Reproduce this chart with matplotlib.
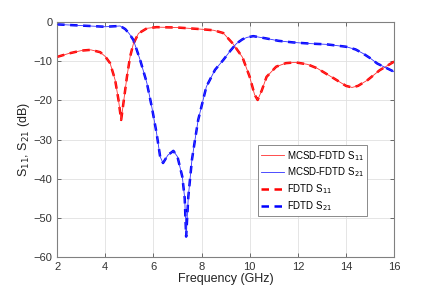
import matplotlib.pyplot as plt
import numpy as np

plt.rcParams['font.family'] = ['Liberation Sans', 'DejaVu Sans']

# S11 (dB)
f_s11 = [2.0, 2.5, 3.0, 3.4, 3.79, 4.0, 4.2, 4.41, 4.55, 4.66, 4.77, 4.9, 5.03,
         5.17, 5.38, 5.73, 6.13, 7.0, 7.94, 8.5, 8.9, 9.3, 9.7, 10.0, 10.2,
         10.33, 10.5, 10.7, 11.1, 11.5, 11.9, 12.4, 12.8, 13.5, 14.0, 14.25,
         14.5, 14.9, 15.4, 16.0]
s11 = [-8.9, -8.0, -7.3, -7.1, -7.7, -8.8, -10.5, -14.8, -19.9, -25, -20, -14,
       -8.9, -5.5, -2.9, -1.6, -1.3, -1.4, -1.8, -2.1, -2.8, -5.5, -9, -14,
       -18.5, -19.9, -17.5, -14, -11.4, -10.5, -10.3, -10.8, -11.8, -14.4,
       -16.3, -16.7, -16.3, -14.8, -12.3, -10.1]

# S21 (dB)
f_s21 = [2.0, 3.0, 4.0, 4.62, 4.83, 5.0, 5.17, 5.45, 5.73, 5.93, 6.13, 6.28,
         6.4, 6.6, 6.83, 7.0, 7.2, 7.3, 7.36, 7.45, 7.6, 7.73, 7.86, 8.2, 8.56,
         8.9, 9.2, 9.45, 9.7, 9.9, 10.15, 10.7, 11.2, 11.8, 12.5, 13.2, 14.0,
         14.4, 14.7, 15.0, 15.3, 16.0]
s21 = [-0.6, -0.9, -1.2, -1.0, -1.8, -3.0, -4.6, -9.7, -15.6, -21.6, -28.3,
       -34.4, -36, -34, -32.9, -34.4, -39.5, -45, -54.8, -44.6, -35.2, -30,
       -25, -16.5, -12.2, -9.7, -7.3, -5.5, -4.4, -3.9, -3.6, -4.2, -4.8, -5.2,
       -5.5, -5.7, -6.3, -7.0, -8.0, -9.2, -10.6, -12.7]

fig = plt.figure(figsize=(4.36, 2.94), dpi=100)
ax = fig.add_axes([0.131, 0.126, 0.773, 0.799])

ax.plot(f_s11, s11, color='#ff3030', lw=0.6, label='MCSD-FDTD S$_{11}$', zorder=3)
ax.plot(f_s21, s21, color='#3030ff', lw=0.6, label='MCSD-FDTD S$_{21}$', zorder=3)
ax.plot(f_s11, s11, '--', color='red', lw=1.8, dashes=(3, 2.2), label='FDTD S$_{11}$', zorder=2)
ax.plot(f_s21, s21, '--', color='blue', lw=1.8, dashes=(3, 2.2), label='FDTD S$_{21}$', zorder=2)

ax.set_xlim(2, 16)
ax.set_ylim(-60, 0)
ax.set_xticks(np.arange(2, 17, 2))
ax.set_yticks(np.arange(-60, 1, 10))
ax.grid(True, color='#e0e0e0', lw=0.6)
ax.set_axisbelow(True)
ax.tick_params(direction='in', length=3, width=0.6, colors='#555555',
               labelsize=8, labelcolor='#333333', top=True, right=True)
for s in ax.spines.values():
    s.set_color('#808080')
    s.set_linewidth(0.8)

ax.set_xlabel('Frequency (GHz)', fontsize=9, color='#222222', labelpad=1)
ax.set_ylabel('S$_{11}$, S$_{21}$ (dB)', fontsize=9, color='#222222', labelpad=1)

leg = ax.legend(loc='upper left', bbox_to_anchor=(0.596, 0.475), fontsize=7,
                fancybox=False, framealpha=1, edgecolor='#777777',
                handlelength=2.3, labelspacing=0.3, borderpad=0.35,
                handletextpad=0.3, borderaxespad=0)
leg.get_frame().set_linewidth(0.6)

fig.savefig('out.png', dpi=100)
